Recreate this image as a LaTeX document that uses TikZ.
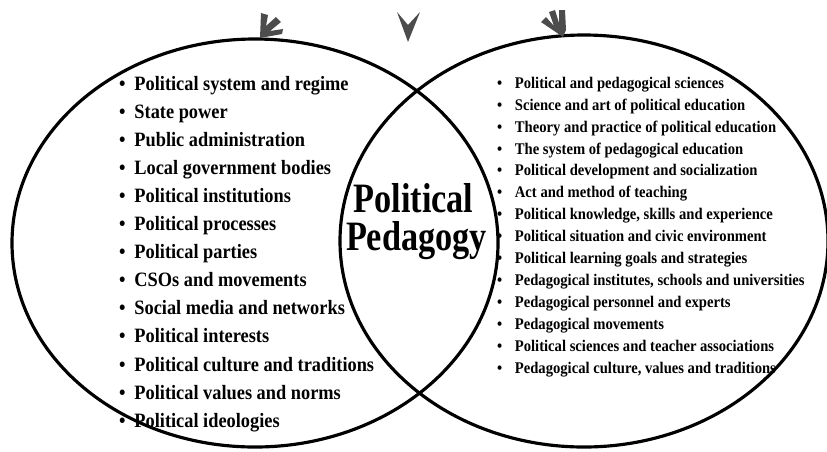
\documentclass[tikz,border=0pt]{standalone}
\usepackage{fontspec}
\newfontfamily\listfont[FakeStretch=0.9]{Liberation Serif Bold}
\newfontfamily\bigfont[FakeStretch=0.82]{Liberation Serif Bold}
\newcommand{\lbul}{\makebox[8.8pt][l]{\textbullet}}
\newcommand{\rbul}{\makebox[10.2pt][l]{\textbullet}}

\begin{document}
\begin{tikzpicture}[x=0.02cm, y=-0.02cm,
    every node/.style={inner sep=0pt, outer sep=0pt},
    ring/.style={line width=1.8pt},
    leftitem/.style={anchor=base west, font=\listfont\fontsize{11.6}{14}\selectfont},
    rightitem/.style={anchor=base west, font=\listfont\fontsize{9.25}{11}\selectfont},
    bigword/.style={anchor=base, text depth=0pt, font=\bigfont\fontsize{23.8}{28}\selectfont},
    pointer/.style={fill=black!70, draw=none}
]
\useasboundingbox (0,0) rectangle (827,451);

\draw[ring] (255,243) ellipse [x radius=243, y radius=204];
\draw[ring] (584,241) ellipse [x radius=244, y radius=206];

% pointers on top
\fill[pointer] (260,38) -- (261,13) -- (268,15) -- (266,26) -- (276,17) -- (281,22)
  -- (270,31) -- (283,29) -- (282,34) -- cycle;
\fill[pointer] (408,42) -- (397,12) -- (408,25) -- (420,12) -- cycle;
\fill[pointer] (563,37) -- (541,22) -- (546,17) -- (554,26) -- (549,12) -- (555,10)
  -- (559,23) -- (559,10) -- (565,10) -- (566,30) -- cycle;

\node[bigword] (pol) at (413.5,212) {Political};
\node[bigword, text height=0.62em] (ped) at (416.5,250) {Pedagogy};

\node[leftitem] (l1)  at (119,90)    {\lbul Political system and regime};
\node[leftitem] (l2)  at (119,118.1) {\lbul State power};
\node[leftitem] (l3)  at (119,146.2) {\lbul Public administration};
\node[leftitem] (l4)  at (119,174.3) {\lbul Local government bodies};
\node[leftitem] (l5)  at (119,202.4) {\lbul Political institutions};
\node[leftitem] (l6)  at (119,230.5) {\lbul Political processes};
\node[leftitem] (l7)  at (119,258.6) {\lbul Political parties};
\node[leftitem] (l8)  at (119,286.7) {\lbul CSOs and movements};
\node[leftitem] (l9)  at (119,314.8) {\lbul Social media and networks};
\node[leftitem] (l10) at (119,342.9) {\lbul Political interests};
\node[leftitem] (l11) at (119,371)   {\lbul Political culture and traditions};
\node[leftitem] (l12) at (119,399.1) {\lbul Political values and norms};
\node[leftitem] (l13) at (119,427.2) {\lbul Political ideologies};

\node[rightitem] (r1)  at (497,88.3)  {\rbul Political and pedagogical sciences};
\node[rightitem] (r2)  at (497,110.2) {\rbul Science and art of political education};
\node[rightitem] (r3)  at (497,132.1) {\rbul Theory and practice of political education};
\node[rightitem] (r4)  at (497,154)   {\rbul The system of pedagogical education};
\node[rightitem] (r5)  at (497,175.9) {\rbul Political development and socialization};
\node[rightitem] (r6)  at (497,197.8) {\rbul Act and method of teaching};
\node[rightitem] (r7)  at (497,219.7) {\rbul Political knowledge, skills and experience};
\node[rightitem] (r8)  at (497,241.6) {\rbul Political situation and civic environment};
\node[rightitem] (r9)  at (497,263.5) {\rbul Political learning goals and strategies};
\node[rightitem] (r10) at (497,285.4) {\rbul Pedagogical institutes, schools and universities};
\node[rightitem] (r11) at (497,307.3) {\rbul Pedagogical personnel and experts};
\node[rightitem] (r12) at (497,329.2) {\rbul Pedagogical movements};
\node[rightitem] (r13) at (497,351.1) {\rbul Political sciences and teacher associations};
\node[rightitem] (r14) at (497,373)   {\rbul Pedagogical culture, values and traditions};

\end{tikzpicture}
\end{document}
